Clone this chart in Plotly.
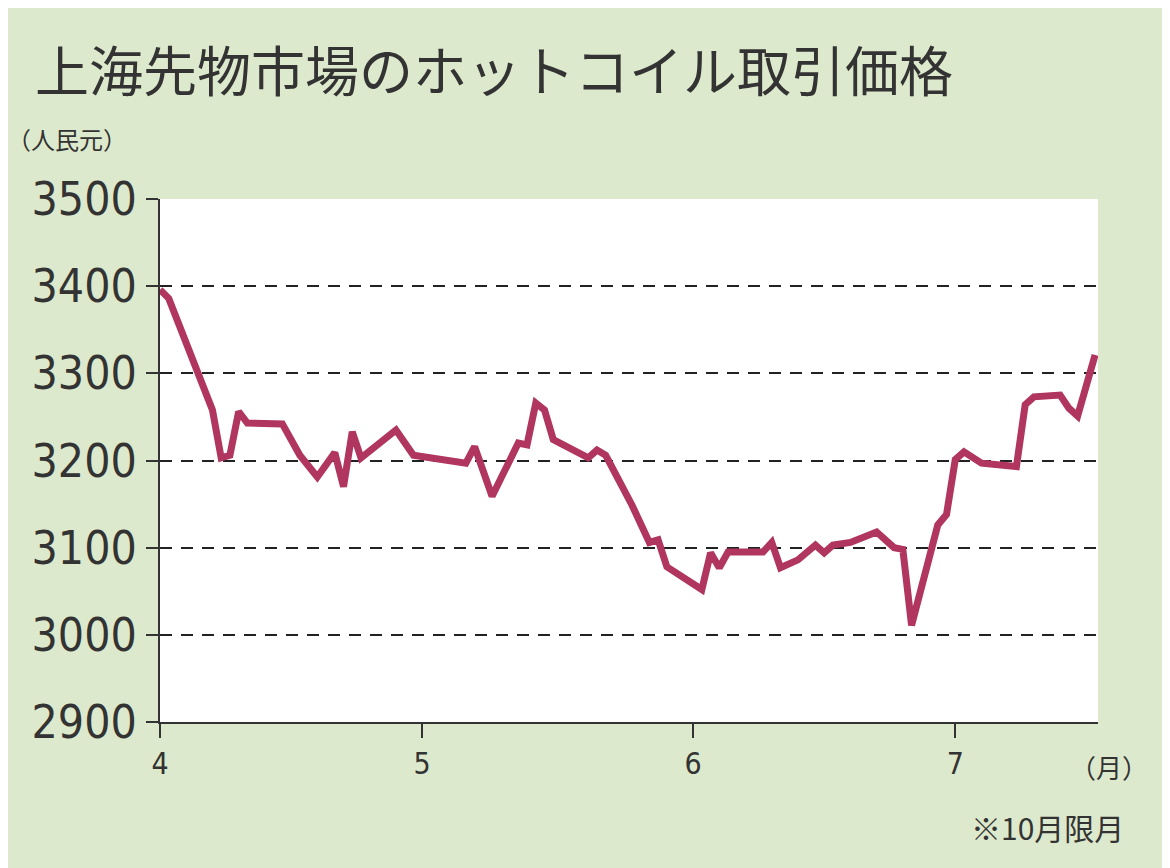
import plotly.graph_objects as go

# 上海先物市場 ホットコイル 10月限月 (人民元)
dates = [
    "2023-04-01", "2023-04-02", "2023-04-07", "2023-04-08", "2023-04-09", "2023-04-10",
    "2023-04-11", "2023-04-15", "2023-04-17", "2023-04-19", "2023-04-21", "2023-04-22",
    "2023-04-23", "2023-04-24", "2023-04-28", "2023-04-30", "2023-05-06", "2023-05-07",
    "2023-05-09", "2023-05-12", "2023-05-13", "2023-05-14", "2023-05-15", "2023-05-16",
    "2023-05-20", "2023-05-21", "2023-05-22", "2023-05-25", "2023-05-27", "2023-05-28",
    "2023-05-29", "2023-06-02", "2023-06-03", "2023-06-04", "2023-06-05", "2023-06-09",
    "2023-06-10", "2023-06-11", "2023-06-13", "2023-06-15", "2023-06-16", "2023-06-17",
    "2023-06-19", "2023-06-22", "2023-06-24", "2023-06-25", "2023-06-26", "2023-06-29",
    "2023-06-30", "2023-07-01", "2023-07-02", "2023-07-04", "2023-07-08", "2023-07-09",
    "2023-07-10", "2023-07-13", "2023-07-14", "2023-07-15", "2023-07-17",
]
prices = [
    3396, 3386, 3258, 3203, 3206, 3256,
    3243, 3242, 3206, 3181, 3209, 3170,
    3233, 3203, 3235, 3206, 3197, 3216,
    3159, 3220, 3218, 3266, 3258, 3224,
    3203, 3212, 3206, 3149, 3106, 3109,
    3078, 3052, 3094, 3077, 3095, 3095,
    3106, 3077, 3086, 3103, 3094, 3103,
    3106, 3118, 3100, 3098, 3011, 3126,
    3138, 3201, 3210, 3197, 3193, 3264,
    3273, 3275, 3260, 3251, 3321,
]
month_ticks = ["2023-04-01", "2023-05-01", "2023-06-01", "2023-07-01"]
month_labels = ["4", "5", "6", "7"]
y_ticks = [2900, 3000, 3100, 3200, 3300, 3400, 3500]

font = "Liberation Sans Narrow, DejaVu Sans Condensed, Noto Sans CJK JP"
jp = "Noto Sans CJK JP"

fig = go.Figure()
fig.add_trace(go.Scatter(x=dates, y=prices, mode="lines",
                         line=dict(color="#b0365f", width=7), hoverinfo="skip"))

fig.update_layout(
    width=1170, height=868,
    paper_bgcolor="#dde9cc", plot_bgcolor="white",
    margin=dict(l=152, r=80, t=191, b=154),
    showlegend=False,
    font=dict(family=font, color="#333333"),
)
fig.update_xaxes(
    type="date", range=["2023-04-01", "2023-07-17 08:00"],
    tickvals=month_ticks, ticktext=month_labels,
    showgrid=False, showline=True, linecolor="#333", linewidth=2,
    ticks="outside", ticklen=14, tickwidth=2, tickcolor="#333",
    tickfont=dict(size=30), zeroline=False,
)
fig.update_yaxes(
    range=[2900, 3500], tickvals=y_ticks,
    showgrid=True, gridcolor="#222", griddash="12px,9px", gridwidth=2,
    showline=True, linecolor="#333", linewidth=2,
    ticks="outside", ticklen=12, tickwidth=2, tickcolor="#333",
    tickfont=dict(size=46), zeroline=False,
)
fig.add_annotation(text="上海先物市場のホットコイル取引価格", xref="paper", yref="paper",
                   x=-0.135, y=1.25, xanchor="left", yanchor="middle", showarrow=False,
                   font=dict(size=54, family=jp, color="#333"))
fig.add_annotation(text="（人民元）", xref="paper", yref="paper",
                   x=-0.165, y=1.115, xanchor="left", yanchor="middle", showarrow=False,
                   font=dict(size=24, family=jp, color="#333"))
fig.add_annotation(text="（月）", xref="paper", yref="paper",
                   x=1.055, y=-0.085, xanchor="right", yanchor="middle", showarrow=False,
                   font=dict(size=26, family=jp, color="#333"))
fig.add_annotation(text="※10月限月", xref="paper", yref="paper",
                   x=1.03, y=-0.2, xanchor="right", yanchor="middle", showarrow=False,
                   font=dict(size=30, family=jp, color="#333"))

fig.write_html("out.html")
